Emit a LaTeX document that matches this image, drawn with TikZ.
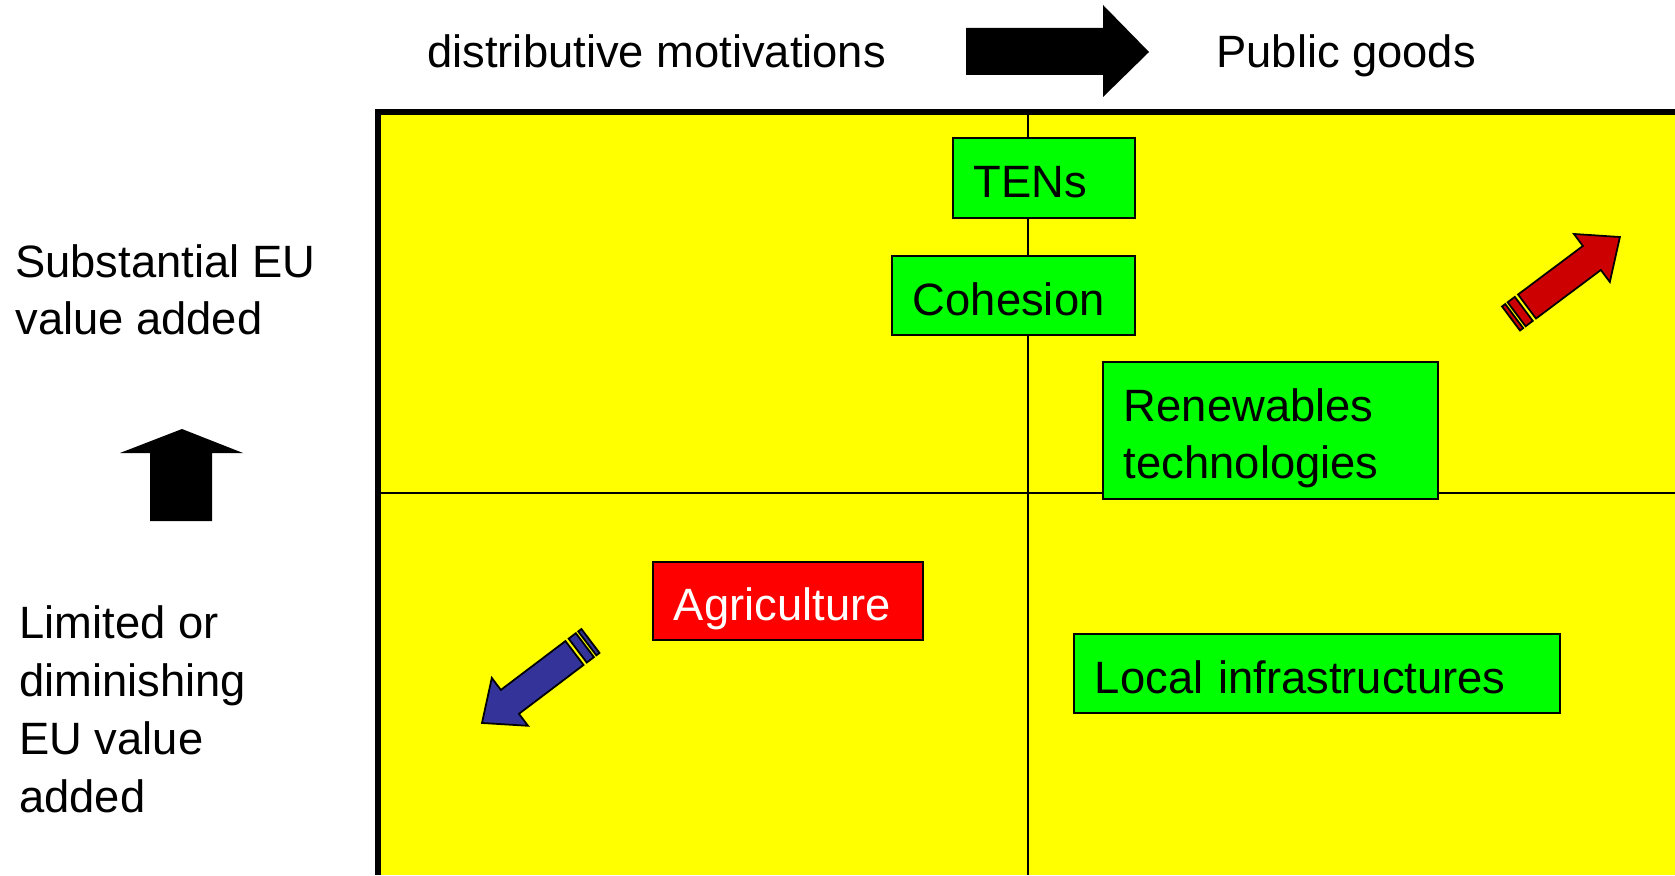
\documentclass[tikz,border=0pt]{standalone}
\usepackage{fontspec}
\setmainfont{Liberation Sans}
\definecolor{quadyellow}{RGB}{255,255,0}
\definecolor{boxgreen}{RGB}{0,255,0}
\definecolor{boxred}{RGB}{255,0,0}
\definecolor{arrowred}{RGB}{204,0,0}
\definecolor{arrowblue}{RGB}{51,51,153}
\begin{document}
\begin{tikzpicture}[x=0.02cm,y=-0.02cm,
  txt/.style={font=\fontsize{25.8}{32.4}\selectfont,inner sep=0pt},
  box/.style={txt,draw,line width=1.1pt,anchor=north west,align=left,inner xsep=0.42cm,inner ysep=0pt,text height=0.8cm,text depth=0pt},
  stripearrow/.pic={
    \filldraw[fill=#1,line width=1pt] (0,-15) -- (81,-15) -- (81,-30) -- (116,0) -- (81,30) -- (81,15) -- (0,15) -- cycle;
    \filldraw[fill=#1,line width=1pt] (-13,-15) rectangle (-4,15);
    \filldraw[fill=#1,line width=1pt] (-20,-15) rectangle (-16,15);
  }]
\useasboundingbox (0,0) rectangle (1675,875);
\fill[white] (0,0) rectangle (1675,875);
\fill[quadyellow] (381,115) rectangle (1675,875);
\draw[line width=3.4pt] (378,875) -- (378,112) -- (1675,112);
\draw[line width=1.1pt] (1028,115) -- (1028,875);
\draw[line width=1.1pt] (381,493) -- (1675,493);

\node[txt,anchor=base west] (distrib) at (427,68) {distributive motivations};
\node[txt,anchor=base west] (public) at (1216,68) {Public goods};
\fill (966,28) -- (1103,28) -- (1103,5) -- (1149,52) -- (1103,97) -- (1103,75) -- (966,75) -- cycle;

\node[txt,anchor=north west,align=left] (substantial) at (15,244) {Substantial EU\\value added};
\node[txt,anchor=north west,align=left,font=\fontsize{25.8}{33}\selectfont] (limited) at (19,605) {Limited or\\diminishing\\EU value\\added};
\fill (150,521) -- (150,453) -- (120,453) -- (182,429) -- (243,453) -- (212,453) -- (212,521) -- cycle;

\node[box,fill=boxgreen,text width=2.80cm,minimum height=1.6cm] (tens) at (952,137) {TENs};
\node[box,fill=boxgreen,text width=4.02cm,minimum height=1.58cm] (cohesion) at (891,255) {Cohesion};
\node[box,fill=boxgreen,text width=5.86cm,minimum height=2.74cm,text height=0.66cm,text depth=1cm] (renew) at (1102,361) {Renewables\\technologies};
\node[box,fill=boxred,text=white,text width=4.56cm,minimum height=1.56cm] (agri) at (652,561) {Agriculture};
\node[box,fill=boxgreen,text width=8.88cm,minimum height=1.58cm] (local) at (1073,633) {Local infrastructures};

\pic[rotate=36.8] at (1527,306.5) {stripearrow=arrowred};
\pic[rotate=217.1] at (574.5,653) {stripearrow=arrowblue};
\end{tikzpicture}
\end{document}
